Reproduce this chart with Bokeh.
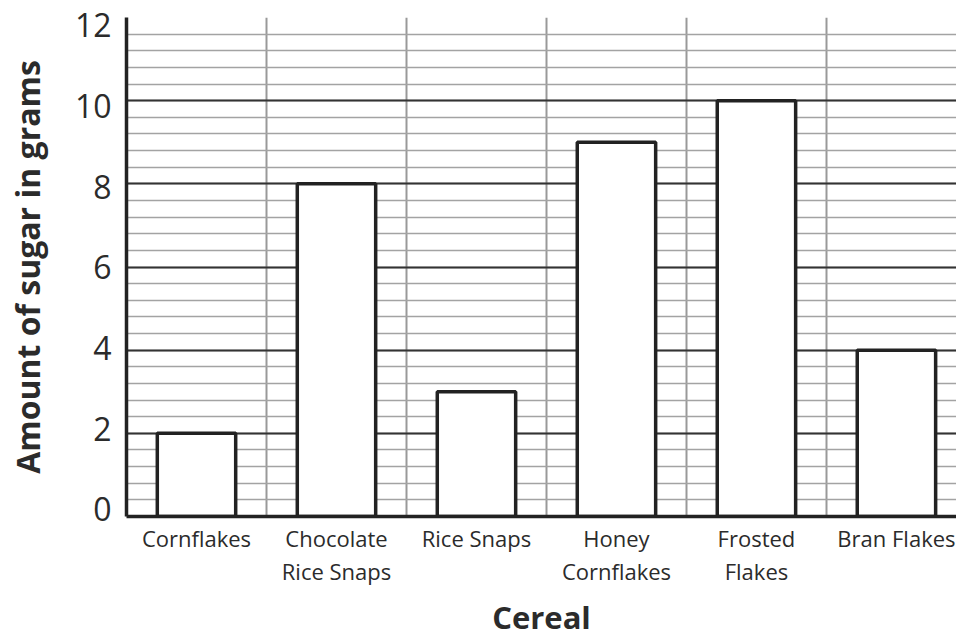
from bokeh.plotting import figure
from bokeh.models import FixedTicker, Range1d, LinearAxis, Grid
from bokeh.embed import file_html
from bokeh.resources import INLINE

categories = ["Cornflakes", "Chocolate\nRice Snaps", "Rice Snaps", "Honey\nCornflakes", "Frosted\nFlakes", "Bran Flakes"]
sugar = [2, 8, 3, 9, 10, 4]
y_ticks = [0, 2, 4, 6, 8, 10, 12]
y_minor = [round(i * 0.4, 1) for i in range(31)]

xs = [i + 0.5 for i in range(len(categories))]
boundaries = list(range(len(categories) + 1))

TEXT = "#2b2b2b"

p = figure(width=956, height=640, output_backend="svg", toolbar_location=None,
           x_range=Range1d(0, 5.929), y_range=Range1d(0, 12),
           y_axis_location=None,
           min_border_left=126, min_border_top=17, min_border_bottom=124, min_border_right=0)
p.outline_line_color = None
p.background_fill_color = "white"
# label scale for the left axis (labels sit slightly inside the grid extent, as in the original)
p.extra_y_ranges = {"lab": Range1d(-0.1736, 12.198)}

# horizontal grid
yg = Grid(dimension=1, ticker=FixedTicker(ticks=y_ticks, minor_ticks=y_minor))
yg.grid_line_color = "#333333"
yg.grid_line_width = 2
yg.minor_grid_line_color = "#a3a3a3"
yg.minor_grid_line_width = 1.5
p.add_layout(yg)

# vertical grid at category boundaries
p.xgrid.ticker = FixedTicker(ticks=boundaries)
p.xgrid.grid_line_color = "#999999"
p.xgrid.grid_line_width = 2

p.vbar(x=xs, top=sugar, width=0.56, fill_color="white", line_color="#222222", line_width=3.5)

# y axis
ya = LinearAxis(y_range_name="lab", ticker=FixedTicker(ticks=y_ticks, minor_ticks=[]))
ya.axis_line_color = "#222222"
ya.axis_line_width = 3.5
ya.major_tick_line_color = None
ya.minor_tick_line_color = None
ya.major_label_text_font = "Open Sans"
ya.major_label_text_font_size = "32px"
ya.major_label_text_color = TEXT
ya.major_label_standoff = 9
ya.axis_label = "Amount of sugar in grams"
ya.axis_label_text_font = "Open Sans"
ya.axis_label_text_font_style = "bold"
ya.axis_label_text_font_size = "32px"
ya.axis_label_text_color = TEXT
ya.axis_label_standoff = 23
p.add_layout(ya, "left")

# x axis
xa = p.xaxis[0]
xa.ticker = FixedTicker(ticks=xs, minor_ticks=[])
xa.major_label_overrides = {x: c for x, c in zip(xs, categories)}
xa.axis_line_color = "#222222"
xa.axis_line_width = 3.5
xa.major_tick_line_color = None
xa.minor_tick_line_color = None
xa.major_label_text_font = "Open Sans"
xa.major_label_text_font_size = "22px"
xa.major_label_text_line_height = 1.1
xa.major_label_text_color = TEXT
xa.major_label_standoff = 0
xa.axis_label = "Cereal"
xa.axis_label_text_font = "Open Sans"
xa.axis_label_text_font_style = "bold"
xa.axis_label_text_font_size = "31px"
xa.axis_label_text_color = TEXT
xa.axis_label_standoff = 7

open("out.html", "w").write(file_html(p, INLINE))
